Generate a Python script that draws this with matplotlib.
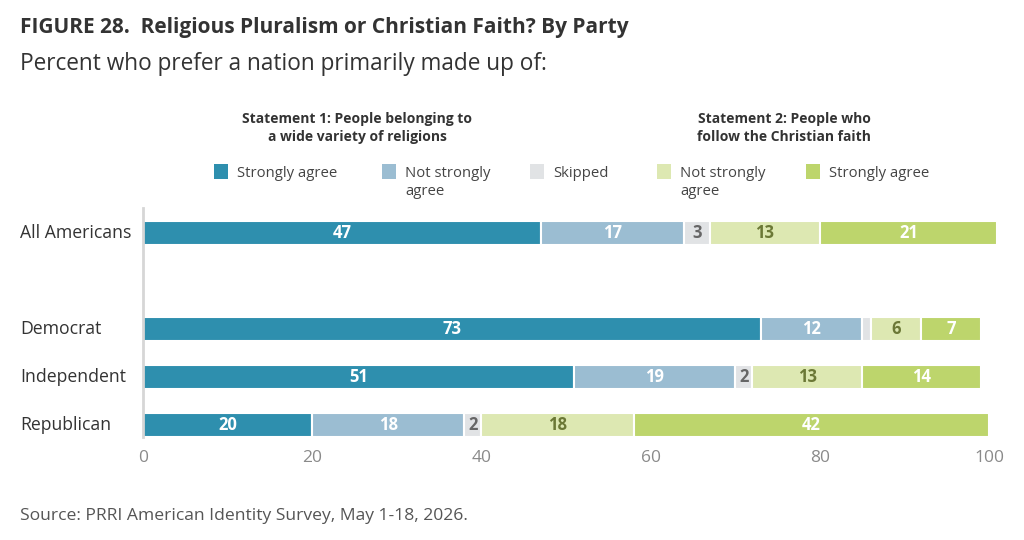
import matplotlib.pyplot as plt
from matplotlib.patches import Rectangle
import numpy as np

groups = ['All Americans', 'Democrat', 'Independent', 'Republican']
group_pos = [0, 2, 3, 4]

series = ['Strongly agree', 'Not strongly\nagree', 'Skipped',
          'Not strongly\nagree', 'Strongly agree']
values = [
    [47, 73, 51, 20],   # statement 1, strongly agree
    [17, 12, 19, 18],   # statement 1, not strongly agree
    [3, 1, 2, 2],       # skipped
    [13, 6, 13, 18],    # statement 2, not strongly agree
    [21, 7, 14, 42],    # statement 2, strongly agree
]
show_label = [
    [True, True, True, True],
    [True, True, True, True],
    [True, False, True, True],
    [True, True, True, True],
    [True, True, True, True],
]
xticks = [0, 20, 40, 60, 80, 100]

colors = ['#2e8fae', '#9bbdd2', '#e1e3e5', '#dde8b2', '#bdd56c']
text_colors = ['white', 'white', '#666666', '#6b7836', 'white']

plt.rcParams['font.family'] = ['Open Sans', 'DejaVu Sans']

W, H = 1024, 540
fig = plt.figure(figsize=(W / 100, H / 100), dpi=100)
ax = fig.add_axes([143 / W, 1 - 437 / H, (989 - 143) / W, (437 - 208) / H])

left = np.zeros(len(groups))
for i, vals in enumerate(values):
    vals = np.array(vals, dtype=float)
    ax.barh(group_pos, vals, left=left, height=0.5, color=colors[i],
            edgecolor='white', linewidth=1.5, clip_on=False, zorder=2)
    for j, v in enumerate(vals):
        if show_label[i][j]:
            ax.text(left[j] + v / 2, group_pos[j], '%d' % v, ha='center',
                    va='center', fontsize=12, fontweight='bold',
                    color=text_colors[i], zorder=3)
    left += vals

ax.set_xlim(0, 100)
ax.set_ylim(4.25, -0.53)
ax.set_yticks([])
ax.set_xticks(xticks)
ax.set_xticklabels([str(t) for t in xticks], fontsize=12.5, color='#8a8a8a')
ax.tick_params(axis='x', length=0, pad=9)
for s in ['top', 'right', 'bottom']:
    ax.spines[s].set_visible(False)
ax.spines['left'].set_color('#d6d6d6')
ax.spines['left'].set_linewidth(2)

for g, p in zip(groups, group_pos):
    ax.text(-123 / 8.46, p, g, ha='left', va='center', fontsize=12.7,
            color='#333333')

# titles
fig.text(20 / W, 1 - 28 / H, 'FIGURE 28.  Religious Pluralism or Christian Faith? By Party',
         fontsize=15, fontweight='bold', color='#333333', va='center')
fig.text(20 / W, 1 - 64 / H, 'Percent who prefer a nation primarily made up of:',
         fontsize=16.3, color='#333333', va='center')

# legend headers
fig.text(357 / W, 1 - 128 / H, 'Statement 1: People belonging to\na wide variety of religions',
         fontsize=10, fontweight='bold', color='#333333', ha='center',
         va='center', linespacing=1.4)
fig.text(784 / W, 1 - 128 / H, 'Statement 2: People who\nfollow the Christian faith',
         fontsize=10, fontweight='bold', color='#333333', ha='center',
         va='center', linespacing=1.4)

# legend items
text_x = [237, 405, 553, 680, 829]
for i, name in enumerate(series):
    fig.patches.append(Rectangle(((text_x[i] - 23) / W, 1 - 179 / H), 14 / W, 15 / H,
                                 transform=fig.transFigure, facecolor=colors[i],
                                 edgecolor='none'))
    fig.text(text_x[i] / W, 1 - 166 / H, name, fontsize=10.7, color='#444444',
             ha='left', va='top', linespacing=1.3)

fig.text(20 / W, 1 - 516 / H, 'Source: PRRI American Identity Survey, May 1-18, 2026.',
         fontsize=12.6, color='#555555', va='center')

fig.savefig('out.png', dpi=100)
